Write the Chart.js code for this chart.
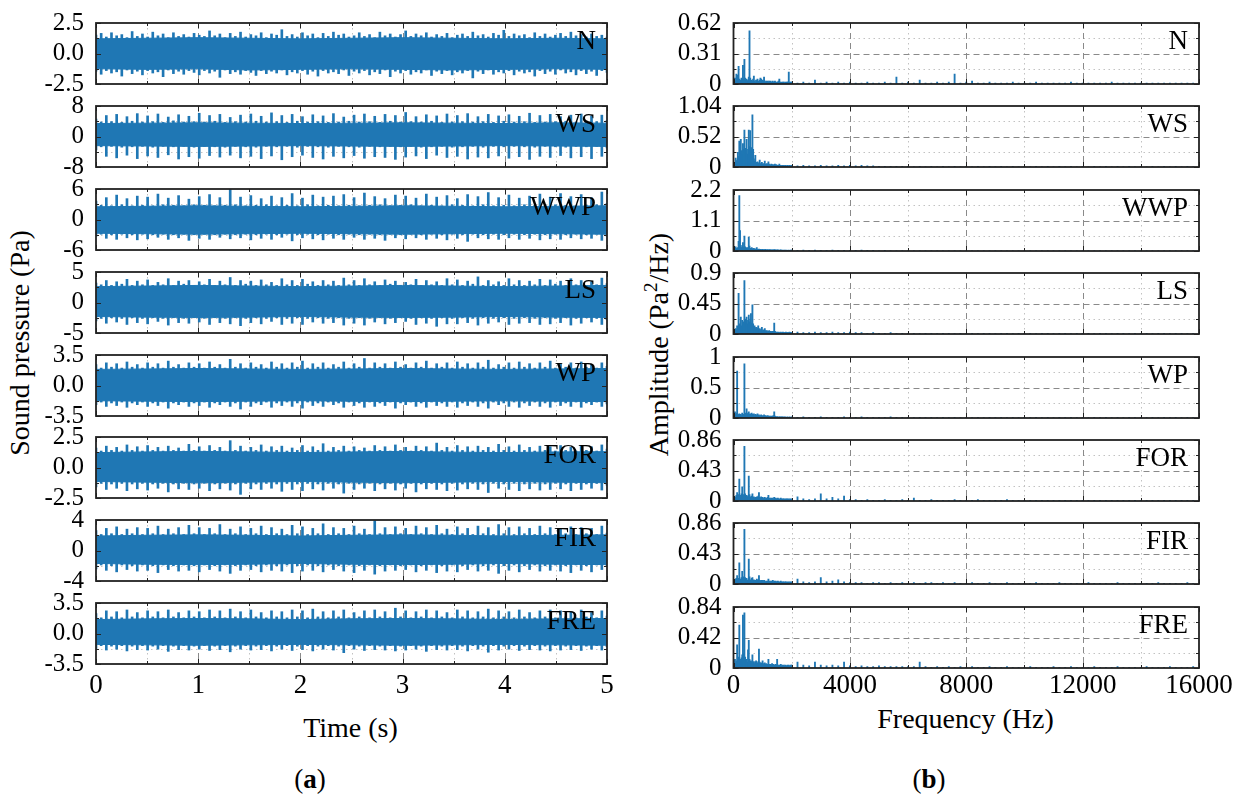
<!DOCTYPE html>
<html>
<head>
<meta charset="utf-8">
<script src="https://cdn.jsdelivr.net/npm/chart.js@4.4.0/dist/chart.umd.min.js"></script>
<style>
  body { margin: 0; background: #fff; width: 1243px; height: 798px; position: relative; overflow: hidden;
         font-family: 'Liberation Serif', 'Times New Roman', serif; color: #000; }
  canvas { position: absolute; }
  .t { position: absolute; font-size: 28px; line-height: 28px; white-space: nowrap; text-align: center; }
  .rot { transform: rotate(-90deg); }
</style>
</head>
<body>
<div class="t rot" style="left:-180px;top:329px;width:400px;">Sound pressure (Pa)</div>
<div class="t rot" style="left:459.5px;top:329px;width:400px;">Amplitude (Pa<span style="font-size:19px;position:relative;top:-11px">2</span>/Hz)</div>
<div class="t" style="left:0;top:713.5px;width:701px;">Time (s)</div>
<div class="t" style="left:700px;top:704.5px;width:531px;">Frequency (Hz)</div>
<div class="t" style="left:260px;top:764.5px;width:100px;font-size:27px;">(<b>a</b>)</div>
<div class="t" style="left:879px;top:764.5px;width:100px;font-size:27px;">(<b>b</b>)</div>
<script>
// Sound pressure signals (a) and their spectra (b) for eight conditions

const signalNames = ["N", "WS", "WWP", "LS", "WP", "FOR", "FIR", "FRE"];

// (a) axis limits and tick labels
const pressureLimits = [2.5, 8, 6, 5, 3.5, 2.5, 4, 3.5];
const pressureTickText = [
  ["-2.5", "0.0", "2.5"], ["-8", "0", "8"], ["-6", "0", "6"], ["-5", "0", "5"],
  ["-3.5", "0.0", "3.5"], ["-2.5", "0.0", "2.5"], ["-4", "0", "4"], ["-3.5", "0.0", "3.5"]
];
const timeTicks = [0, 1, 2, 3, 4, 5];
const timeStep = 5 / 99; // 100 spike samples over 5 s
const coreStep = 0.5;    // dense core band read every 0.5 s

// (b) axis limits and tick labels
const amplitudeMax = [0.62, 1.04, 2.2, 0.9, 1, 0.86, 0.86, 0.84];
const amplitudeTickText = [
  ["0", "0.31", "0.62"], ["0", "0.52", "1.04"], ["0", "1.1", "2.2"], ["0", "0.45", "0.9"],
  ["0", "0.5", "1"], ["0", "0.43", "0.86"], ["0", "0.43", "0.86"], ["0", "0.42", "0.84"]
];
const freqTicks = [0, 4000, 8000, 12000, 16000];
const lowStepHz = 25;     // 0 .. 1975 Hz
const highStartHz = 2000; // 2000 .. 16000 Hz
const highStepHz = 200;

// solid core of each pressure signal (Pa)
const nCoreUp = [1.2,1.25,1.3,1.25,1.2,1.25,1.3,1.25,1.2,1.25,1.2];
const nCoreLo = [-1.25,-1.3,-1.25,-1.35,-1.3,-1.25,-1.3,-1.35,-1.3,-1.25,-1.3];
const wsCoreUp = [3.4,3.5,3.6,3.5,3.4,3.5,3.6,3.5,3.4,3.6,3.5];
const wsCoreLo = [-2.4,-2.5,-2.6,-2.5,-2.4,-2.5,-2.6,-2.5,-2.4,-2.5,-2.6];
const wwpCoreUp = [2.5,2.6,2.7,2.6,2.5,2.6,2.7,2.6,2.5,2.6,2.7];
const wwpCoreLo = [-2.7,-2.8,-2.9,-2.8,-2.7,-2.8,-2.9,-2.8,-2.7,-2.8,-2.9];
const lsCoreUp = [2.6,2.7,2.8,2.7,2.6,2.7,2.8,2.7,2.6,2.7,2.8];
const lsCoreLo = [-2.3,-2.4,-2.45,-2.4,-2.3,-2.4,-2.45,-2.4,-2.3,-2.4,-2.45];
const wpCoreUp = [1.85,1.9,1.95,1.9,1.85,1.9,1.95,1.9,1.85,1.9,1.95];
const wpCoreLo = [-1.75,-1.8,-1.85,-1.8,-1.75,-1.8,-1.85,-1.8,-1.75,-1.8,-1.85];
const forCoreUp = [1.22,1.28,1.32,1.28,1.22,1.28,1.32,1.26,1.22,1.28,1.3];
const forCoreLo = [-1.15,-1.2,-1.25,-1.2,-1.15,-1.2,-1.25,-1.2,-1.15,-1.2,-1.25];
const firCoreUp = [1.9,2.0,2.05,2.0,1.9,2.0,2.05,2.0,1.9,2.0,2.05];
const firCoreLo = [-1.7,-1.8,-1.85,-1.8,-1.7,-1.8,-1.85,-1.8,-1.7,-1.8,-1.85];
const freCoreUp = [1.6,1.68,1.72,1.68,1.6,1.68,1.72,1.68,1.6,1.68,1.72];
const freCoreLo = [-1.25,-1.3,-1.35,-1.3,-1.25,-1.3,-1.35,-1.3,-1.25,-1.3,-1.35];

// upper / lower spike tips of each pressure signal (Pa)
const nUpper = [1.5,1.65,1.35,1.7,1.45,1.55,1.3,1.8,1.4,1.6, 1.35,1.75,1.45,1.6,1.3,1.7,1.4,1.55,1.35,1.65,
  1.5,1.4,1.85,1.45,1.6,1.3,1.65,1.4,1.75,1.35, 1.55,1.45,1.7,1.3,1.6,1.5,1.95,1.4,1.55,1.35,
  1.7,1.45,1.6,1.3,1.65,1.4,1.75,1.5,1.6,1.35, 1.45,1.7,1.4,1.55,1.3,1.75,1.45,1.6,1.35,1.55,
  1.85,1.4,1.6,1.45,1.7,1.35,1.55,1.4,1.65,1.3, 1.5,1.6,1.4,1.75,1.45,1.55,1.35,1.65,1.5,1.9,
  1.4,1.6,1.45,1.55,1.3,1.7,1.4,1.6,1.35,1.5, 1.65,1.4,1.75,1.45,1.55,1.35,1.6,1.4,1.5,1.35];
const nLower = [-1.45,-1.7,-1.4,-1.6,-1.5,-1.85,-1.35,-1.65,-1.45,-1.75, -1.4,-1.6,-1.5,-1.9,-1.35,-1.65,-1.45,-1.7,-1.4,-1.55,
  -1.75,-1.4,-1.6,-1.45,-1.95,-1.35,-1.65,-1.5,-1.7,-1.4, -1.55,-1.8,-1.4,-1.65,-1.45,-1.6,-1.35,-1.75,-1.5,-1.6,
  -1.4,-1.7,-1.45,-1.85,-1.4,-1.6,-1.5,-1.65,-1.35,-1.8, -1.45,-1.6,-1.4,-1.75,-1.5,-1.65,-1.35,-1.9,-1.45,-1.6,
  -1.4,-1.7,-1.5,-1.6,-1.35,-1.8,-1.45,-1.65,-1.4,-1.75, -1.5,-1.6,-1.4,-2.0,-1.45,-1.65,-1.35,-1.7,-1.5,-1.6,
  -1.4,-1.75,-1.45,-1.6,-1.5,-1.85,-1.4,-1.65,-1.45,-1.7, -1.35,-1.6,-1.5,-1.75,-1.4,-1.65,-1.45,-1.8,-1.4,-1.55];
const wsUpper = [4.6,3.8,5.5,3.9,5.8,3.7,5.2,4.0,6.0,3.8, 5.4,3.9,5.9,3.7,5.1,4.1,5.7,3.8,5.3,3.9,
  6.1,3.8,5.5,4.0,5.8,3.7,5.0,3.9,5.6,3.8, 5.9,4.0,5.3,3.8,6.2,3.9,5.5,3.7,5.8,4.0,
  5.2,3.8,5.7,3.9,5.4,3.7,6.0,3.8,5.1,4.0, 5.6,3.8,5.9,3.9,5.3,3.7,5.8,4.0,5.5,3.8,
  6.3,3.9,5.2,3.8,5.7,4.0,5.4,3.7,5.9,3.8, 5.5,3.9,6.0,3.8,5.2,3.9,5.8,3.7,5.4,4.0,
  5.7,3.8,5.3,3.9,6.1,3.7,5.5,3.8,5.8,3.9, 5.2,4.0,5.6,3.8,5.9,3.7,5.4,3.9,5.6,4.2];
const wsLower = [-3.5,-2.7,-5.2,-2.6,-5.6,-2.8,-4.9,-2.7,-5.8,-2.6, -5.1,-2.8,-5.5,-2.6,-4.8,-2.7,-5.9,-2.6,-5.3,-2.8,
  -5.7,-2.6,-5.0,-2.7,-5.4,-2.8,-4.9,-2.6,-5.6,-2.7, -5.2,-2.8,-5.8,-2.6,-5.1,-2.7,-6.1,-2.6,-5.3,-2.8,
  -4.9,-2.6,-5.5,-2.7,-5.9,-2.8,-5.2,-2.6,-5.6,-2.7, -5.0,-2.8,-5.7,-2.6,-5.3,-2.7,-5.5,-2.6,-6.0,-2.7,
  -5.4,-2.6,-5.1,-2.8,-5.8,-2.7,-4.9,-2.6,-5.5,-2.8, -5.2,-2.7,-5.9,-2.6,-5.4,-2.8,-5.6,-2.6,-5.1,-2.7,
  -5.7,-2.6,-5.3,-2.7,-6.0,-2.8,-5.2,-2.6,-5.5,-2.7, -5.0,-2.8,-5.6,-2.6,-5.3,-2.7,-5.8,-2.6,-5.2,-3.0];
const wwpUpper = [3.6,2.8,4.3,2.7,4.8,2.9,4.1,2.7,4.6,2.8, 4.4,2.7,5.0,2.9,4.2,2.8,4.7,2.7,4.0,2.9,
  4.5,2.8,4.9,2.7,4.3,2.8,5.9,2.9,4.4,2.7, 4.7,2.8,4.1,2.9,4.6,2.7,4.3,2.8,5.1,2.7,
  4.2,2.9,4.8,2.7,4.4,2.8,4.6,2.7,4.9,2.8, 4.3,2.7,5.2,2.8,4.5,2.9,4.1,2.7,4.8,2.8,
  4.6,2.9,4.2,2.7,5.0,2.8,4.4,2.7,4.7,2.9, 4.1,2.8,4.9,2.7,4.5,2.9,5.3,2.7,4.3,2.8,
  4.8,2.7,4.2,2.9,4.6,2.8,5.0,2.7,4.4,2.9, 5.1,2.8,4.5,2.7,4.9,2.8,4.3,2.9,5.4,3.2];
const wwpLower = [-3.3,-2.9,-3.7,-3.0,-3.9,-2.9,-3.6,-3.0,-4.0,-2.9, -3.8,-3.0,-3.5,-2.9,-3.9,-3.0,-3.6,-2.9,-4.1,-3.0,
  -3.7,-2.9,-3.9,-3.0,-3.5,-2.9,-3.8,-3.0,-3.6,-2.9, -4.0,-3.0,-3.7,-2.9,-3.9,-3.0,-3.5,-2.9,-4.2,-3.0,
  -3.6,-2.9,-3.8,-3.0,-4.0,-2.9,-3.7,-3.0,-3.9,-2.9, -3.5,-3.0,-3.9,-2.9,-3.7,-3.0,-4.1,-2.9,-3.6,-3.0,
  -3.8,-2.9,-3.6,-3.0,-3.9,-2.9,-3.7,-3.0,-4.0,-2.9, -3.7,-3.0,-4.3,-2.9,-3.6,-3.0,-3.8,-2.9,-3.9,-3.0,
  -3.6,-2.9,-3.9,-3.0,-3.7,-2.9,-4.0,-3.0,-3.8,-2.9, -3.9,-3.0,-3.6,-2.9,-3.8,-3.0,-3.7,-2.9,-4.1,-3.3];
const lsUpper = [3.2,2.9,3.6,2.8,3.4,3.0,3.8,2.8,3.5,2.9, 3.7,2.8,3.3,2.9,3.9,2.8,3.5,3.0,3.6,2.8,
  3.4,2.9,3.8,2.8,3.5,2.9,4.1,2.8,3.6,3.0, 3.5,2.8,3.7,2.9,3.3,2.8,3.9,2.9,3.6,2.8,
  3.8,3.0,3.4,2.8,3.6,2.9,3.5,2.8,4.0,2.9, 3.6,2.8,3.9,2.9,3.4,2.8,3.7,3.0,3.5,2.8,
  3.3,2.9,3.8,2.8,3.6,2.9,3.4,2.8,3.9,2.9, 3.7,2.8,3.5,3.0,4.2,2.8,3.6,2.9,3.4,2.8,
  3.9,2.9,3.6,2.8,3.5,2.9,3.8,2.8,3.7,3.0, 3.5,2.8,3.9,2.9,3.6,2.8,3.4,2.9,4.0,3.1];
const lsLower = [-3.0,-2.6,-3.4,-2.5,-3.2,-2.6,-3.6,-2.5,-3.3,-2.6, -3.5,-2.5,-3.1,-2.6,-3.7,-2.5,-3.3,-2.6,-3.4,-2.5,
  -3.2,-2.6,-3.6,-2.5,-3.3,-2.6,-3.5,-2.5,-3.8,-2.6, -3.3,-2.5,-3.5,-2.6,-3.1,-2.5,-3.6,-2.6,-3.4,-2.5,
  -3.6,-2.6,-3.2,-2.5,-3.4,-2.6,-3.3,-2.5,-3.7,-2.6, -3.4,-2.5,-3.7,-2.6,-3.2,-2.5,-3.5,-2.6,-3.3,-2.5,
  -3.1,-2.6,-3.6,-2.5,-3.4,-2.6,-3.9,-2.5,-3.5,-2.6, -3.5,-2.5,-3.3,-2.6,-3.7,-2.5,-3.4,-2.6,-3.2,-2.5,
  -3.6,-2.6,-3.4,-2.5,-3.3,-2.6,-3.6,-2.5,-3.5,-2.6, -3.3,-2.5,-3.7,-2.6,-3.4,-2.5,-3.2,-2.6,-3.6,-2.8];
const wpUpper = [2.4,2.0,2.6,2.1,2.5,2.0,2.7,2.1,2.4,2.0, 2.6,2.1,2.5,2.0,2.8,2.1,2.4,2.0,2.6,2.1,
  2.5,2.0,2.7,2.1,2.4,2.0,3.0,2.1,2.5,2.0, 2.6,2.1,2.4,2.0,2.7,2.1,2.5,2.0,2.6,2.1,
  2.8,2.0,2.5,2.1,2.6,2.0,2.4,2.1,2.7,2.0, 2.5,2.1,3.1,2.0,2.6,2.1,2.5,2.0,2.7,2.1,
  2.4,2.0,2.6,2.1,2.8,2.0,2.5,2.1,2.6,2.0, 2.7,2.1,2.5,2.0,2.6,2.1,2.9,2.0,2.4,2.1,
  2.6,2.0,2.7,2.1,2.5,2.0,2.6,2.1,2.8,2.0, 2.5,2.1,2.6,2.0,2.7,2.1,2.4,2.0,2.6,2.2];
const wpLower = [-2.2,-1.9,-2.4,-2.0,-2.3,-1.9,-2.5,-2.0,-2.2,-1.9, -2.4,-2.0,-2.3,-1.9,-2.6,-2.0,-2.2,-1.9,-2.4,-2.0,
  -2.3,-1.9,-2.5,-2.0,-2.2,-1.9,-2.4,-2.0,-2.7,-1.9, -2.4,-2.0,-2.2,-1.9,-2.5,-2.0,-2.3,-1.9,-2.4,-2.0,
  -2.6,-1.9,-2.3,-2.0,-2.4,-1.9,-2.2,-2.0,-2.5,-1.9, -2.3,-2.0,-2.5,-1.9,-2.4,-2.0,-2.3,-1.9,-2.6,-2.0,
  -2.2,-1.9,-2.4,-2.0,-2.5,-1.9,-2.3,-2.0,-2.4,-1.9, -2.5,-2.0,-2.3,-1.9,-2.4,-2.0,-2.6,-1.9,-2.2,-2.0,
  -2.4,-1.9,-2.5,-2.0,-2.3,-1.9,-2.4,-2.0,-2.5,-1.9, -2.3,-2.0,-2.4,-1.9,-2.5,-2.0,-2.2,-1.9,-2.4,-2.1];
const forUpper = [1.6,1.35,1.75,1.4,1.65,1.35,1.85,1.4,1.7,1.35, 1.8,1.4,1.65,1.35,1.75,1.4,1.6,1.35,1.9,1.4,
  1.7,1.35,1.8,1.4,1.65,1.35,2.2,1.4,1.75,1.35, 1.65,1.4,1.85,1.35,1.7,1.4,1.75,1.35,1.6,1.4,
  1.8,1.35,1.7,1.4,1.95,1.35,1.65,1.4,1.75,1.35, 1.7,1.4,1.6,1.35,1.8,1.4,1.7,1.35,1.85,1.4,
  1.65,1.35,1.75,1.4,1.7,1.35,2.0,1.4,1.65,1.35, 1.8,1.4,1.7,1.35,1.75,1.4,1.65,1.35,1.9,1.4,
  1.7,1.35,1.85,1.4,1.65,1.35,1.75,1.4,1.7,1.35, 1.8,1.4,1.65,1.35,1.75,1.4,1.7,1.35,1.85,1.5];
const forLower = [-1.6,-1.3,-1.8,-1.35,-1.7,-1.3,-1.9,-1.35,-1.75,-1.3, -1.85,-1.35,-1.7,-1.3,-2.0,-1.35,-1.75,-1.3,-1.8,-1.35,
  -1.7,-1.3,-1.9,-1.35,-1.75,-1.3,-1.85,-1.35,-2.2,-1.3, -1.75,-1.35,-1.8,-1.3,-1.7,-1.35,-1.95,-1.3,-1.8,-1.35,
  -1.9,-1.3,-1.75,-1.35,-1.85,-1.3,-1.7,-1.35,-2.1,-1.3, -1.8,-1.35,-1.7,-1.3,-1.9,-1.35,-1.75,-1.3,-1.85,-1.35,
  -1.7,-1.3,-2.0,-1.35,-1.75,-1.3,-1.8,-1.35,-1.9,-1.3, -1.85,-1.35,-1.75,-1.3,-1.8,-1.35,-2.05,-1.3,-1.7,-1.35,
  -1.8,-1.3,-1.9,-1.35,-1.75,-1.3,-1.85,-1.35,-1.8,-1.3, -1.75,-1.35,-1.9,-1.3,-1.8,-1.35,-1.7,-1.3,-1.85,-1.45];
const firUpper = [2.6,2.1,2.9,2.2,3.1,2.1,2.8,2.2,3.0,2.1, 2.9,2.2,3.2,2.1,2.8,2.2,3.0,2.1,3.3,2.2,
  3.0,2.1,2.9,2.2,3.4,2.1,2.8,2.2,3.1,2.1, 2.9,2.2,3.2,2.1,3.0,2.2,2.8,2.1,3.3,2.2,
  3.1,2.1,2.9,2.2,3.5,2.1,3.0,2.2,2.9,2.1, 3.2,2.2,2.8,2.1,3.9,2.2,3.0,2.1,3.1,2.2,
  2.9,2.1,3.2,2.2,3.0,2.1,3.3,2.2,2.8,2.1, 3.1,2.2,2.9,2.1,3.2,2.2,3.0,2.1,3.4,2.2,
  3.0,2.1,3.1,2.2,2.9,2.1,3.2,2.2,3.0,2.1, 2.8,2.2,3.1,2.1,3.0,2.2,2.9,2.1,3.2,2.3];
const firLower = [-2.4,-1.9,-2.6,-2.0,-2.8,-1.9,-2.5,-2.0,-2.7,-1.9, -2.6,-2.0,-2.9,-1.9,-2.5,-2.0,-2.7,-1.9,-2.6,-2.0,
  -2.8,-1.9,-2.5,-2.0,-2.7,-1.9,-3.0,-2.0,-2.6,-1.9, -2.5,-2.0,-2.8,-1.9,-2.6,-2.0,-2.7,-1.9,-2.9,-2.0,
  -2.7,-1.9,-2.6,-2.0,-2.8,-1.9,-2.5,-2.0,-2.7,-1.9, -2.9,-2.0,-2.6,-1.9,-3.1,-2.0,-2.7,-1.9,-2.6,-2.0,
  -2.5,-1.9,-2.8,-2.0,-2.6,-1.9,-2.9,-2.0,-2.7,-1.9, -2.8,-2.0,-2.5,-1.9,-2.7,-2.0,-2.6,-1.9,-3.0,-2.0,
  -2.6,-1.9,-2.8,-2.0,-2.5,-1.9,-2.7,-2.0,-2.6,-1.9, -2.7,-2.0,-2.9,-1.9,-2.6,-2.0,-2.8,-1.9,-2.5,-2.1];
const freUpper = [2.3,1.8,2.6,1.9,2.5,1.8,2.7,1.9,2.4,1.8, 2.6,1.9,2.5,1.8,2.7,1.9,2.4,1.8,2.6,1.9,
  2.5,1.8,2.7,1.9,2.6,1.8,2.8,1.9,2.5,1.8, 2.7,1.9,2.4,1.8,2.6,1.9,2.5,1.8,2.7,1.9,
  2.6,1.8,2.8,1.9,2.5,1.8,2.6,1.9,2.7,1.8, 2.4,1.9,2.6,1.8,2.7,1.9,2.5,1.8,2.9,1.9,
  2.6,1.8,2.5,1.9,2.7,1.8,2.6,1.9,2.4,1.8, 2.7,1.9,2.6,1.8,2.5,1.9,2.8,1.8,2.6,1.9,
  2.5,1.8,2.7,1.9,2.4,1.8,2.6,1.9,2.7,1.8, 2.6,1.9,2.5,1.8,2.7,1.9,2.4,1.8,2.6,2.0];
const freLower = [-1.7,-1.4,-1.9,-1.45,-1.8,-1.4,-2.0,-1.45,-1.85,-1.4, -1.9,-1.45,-1.8,-1.4,-2.05,-1.45,-1.85,-1.4,-1.9,-1.45,
  -1.8,-1.4,-1.95,-1.45,-1.85,-1.4,-2.1,-1.45,-1.8,-1.4, -1.9,-1.45,-1.85,-1.4,-2.0,-1.45,-1.8,-1.4,-1.95,-1.45,
  -1.85,-1.4,-2.0,-1.45,-1.8,-1.4,-1.9,-1.45,-2.2,-1.4, -1.8,-1.45,-1.95,-1.4,-1.85,-1.45,-1.9,-1.4,-2.0,-1.45,
  -1.9,-1.4,-1.8,-1.45,-2.05,-1.4,-1.85,-1.45,-1.9,-1.4, -1.85,-1.45,-2.0,-1.4,-1.8,-1.45,-2.15,-1.4,-1.9,-1.45,
  -1.8,-1.4,-1.95,-1.45,-1.85,-1.4,-1.9,-1.45,-2.0,-1.4, -1.9,-1.45,-1.85,-1.4,-1.95,-1.45,-1.8,-1.4,-1.9,-1.5];

// spectra (Pa^2/Hz): low band every 25 Hz from 0, high band every 200 Hz from 2000
const nSpecLow = [.02,.03,.06,.03,.10,.04,.09,.18,.05,.04, .03,.06,.04,.19,.05,.25,.06,.03,.05,.03,
  .04,.07,.54,.06,.03,.04,.03,.05,.08,.03, .02,.04,.03,.05,.03,.02,.04,.06,.05,.03,
  .04,.03,.07,.03,.02,.03,.02,.03,.02,.03, .02,.03,.02,.02,.03,.02,.02,.03,.02,.01,
  .02,.02,.03,.05,.02,.01,.02,.01,.02,.02, .01,.02,.01,.02,.02,.02,.12,.02,.01,.02];
const nSpecHigh = [.02,.01,.02,.01,.04,.01,.02,.01,.02,.01, .02,.01,.01,.02,.01,.01,.02,.01,.07,.01,
  .02,.01,.04,.01,.01,.02,.01,.02,.10,.01, .02,.03,.01,.01,.02,.01,.01,.01,.02,.01,
  .01,.01,.02,.01,.01,.01,.01,.01,.02,.01, .01,.01,.01,.01,.01,.02,.01,.01,.01,.01,
  .01,.01,.01,.01,.01,.01,.01,.01,.01,.01, .01];
const wsSpecLow = [.05,.08,.06,.15,.10,.12,.25,.18,.44,.20, .47,.28,.22,.40,.30,.63,.25,.32,.47,.22,
  .30,.63,.35,.62,.28,.33,.89,.30,.14,.10, .20,.08,.06,.09,.05,.07,.12,.06,.05,.08,
  .05,.06,.04,.10,.05,.04,.06,.04,.09,.05, .04,.03,.05,.04,.03,.04,.03,.05,.03,.04,
  .03,.02,.03,.05,.02,.03,.02,.03,.02,.03, .02,.03,.02,.02,.03,.02,.02,.03,.02,.02];
const wsSpecHigh = [.03,.02,.03,.02,.02,.03,.02,.02,.03,.02, .03,.02,.03,.02,.02,.01,.01,.01,.01,.01,
  .01,.005,.01,.005,.01,.005,.01,.005,.01,.005, .01,.005,.01,.005,.01,.005,.01,.005,.01,.005,
  .01,.005,.01,.005,.01,.005,.01,.005,.01,.005, .01,.005,.01,.005,.01,.005,.01,.005,.01,.005,
  .01,.005,.01,.005,.01,.005,.01,.005,.01,.005, .01];
const wwpSpecLow = [.05,.08,.06,.15,.07,.10,.12,.35,2.0,.74, .20,.12,.15,.30,.12,.54,.15,.10,.12,.08,
  .12,.50,.18,.10,.08,.12,.09,.07,.10,.06, .08,.05,.12,.06,.05,.07,.04,.06,.05,.04,
  .06,.04,.05,.04,.06,.04,.03,.05,.04,.03, .05,.03,.04,.03,.04,.03,.05,.03,.04,.03,
  .03,.04,.03,.02,.03,.04,.02,.03,.02,.03, .02,.03,.02,.03,.02,.02,.03,.02,.02,.03];
const wwpSpecHigh = [.03,.02,.03,.02,.03,.02,.02,.03,.02,.02, .02,.02,.03,.02,.02,.01,.02,.01,.01,.01,
  .01,.01,.01,.01,.01,.01,.01,.01,.01,.01, .01,.01,.01,.01,.01,.01,.01,.01,.01,.01,
  .01,.01,.01,.01,.01,.01,.01,.01,.01,.01, .01,.01,.01,.01,.01,.01,.01,.01,.01,.01,
  .01,.01,.01,.01,.01,.01,.01,.01,.01,.01, .01];
const lsSpecLow = [.04,.06,.05,.08,.06,.12,.09,.60,.15,.10, .25,.12,.20,.14,.18,.79,.16,.22,.25,.15,
  .20,.28,.18,.22,.30,.16,.43,.15,.10,.12, .08,.10,.07,.09,.12,.06,.08,.05,.07,.10,
  .05,.06,.04,.08,.05,.04,.05,.03,.04,.05, .03,.04,.03,.04,.03,.04,.16,.04,.03,.02,
  .03,.02,.03,.02,.02,.03,.02,.02,.03,.02, .02,.02,.03,.02,.02,.02,.02,.03,.02,.02];
const lsSpecHigh = [.02,.03,.02,.02,.03,.02,.02,.03,.02,.02, .03,.02,.02,.01,.02,.01,.01,.02,.01,.01,
  .01,.01,.005,.01,.01,.005,.01,.01,.005,.01, .01,.01,.005,.01,.01,.005,.01,.01,.005,.01,
  .01,.01,.005,.01,.01,.005,.01,.01,.005,.01, .01,.01,.005,.01,.01,.005,.01,.01,.005,.01,
  .01,.01,.005,.01,.01,.005,.01,.01,.005,.01, .01];
const wpSpecLow = [.03,.05,.10,.06,.08,.77,.06,.05,.07,.05, .06,.04,.08,.05,.06,.89,.07,.08,.15,.06,
  .08,.10,.06,.07,.05,.08,.06,.05,.07,.04, .06,.04,.05,.07,.04,.05,.03,.04,.05,.03,
  .04,.03,.05,.03,.04,.03,.02,.04,.03,.02, .03,.02,.03,.02,.03,.04,.10,.03,.02,.02,
  .02,.02,.01,.02,.02,.01,.02,.02,.01,.02, .01,.02,.01,.01,.02,.01,.01,.02,.01,.01];
const wpSpecHigh = [.02,.01,.02,.01,.01,.02,.01,.01,.01,.02, .01,.01,.02,.01,.01,.01,.01,.02,.01,.01,
  .01,.005,.01,.005,.01,.005,.01,.005,.01,.005, .01,.005,.01,.005,.01,.005,.01,.005,.01,.005,
  .01,.005,.01,.005,.01,.005,.01,.005,.01,.005, .01,.005,.01,.005,.01,.005,.01,.005,.01,.005,
  .01,.005,.01,.005,.01,.005,.01,.005,.01,.005, .01];
const forSpecLow = [.03,.05,.04,.06,.08,.12,.05,.09,.31,.08, .06,.10,.20,.07,.09,.77,.10,.06,.08,.05,
  .07,.35,.09,.06,.05,.07,.10,.05,.06,.04, .05,.04,.06,.05,.07,.12,.05,.04,.06,.04,
  .05,.03,.04,.05,.03,.04,.03,.05,.08,.03, .04,.03,.04,.03,.04,.03,.05,.03,.04,.03,
  .03,.04,.03,.02,.03,.04,.03,.02,.03,.03, .02,.03,.02,.03,.03,.02,.03,.02,.03,.02];
const forSpecHigh = [.03,.06,.03,.02,.03,.10,.03,.05,.03,.07, .02,.02,.01,.02,.01,.01,.02,.01,.01,.02,
  .01,.04,.01,.01,.02,.01,.01,.01,.02,.01, .01,.01,.02,.01,.01,.01,.01,.02,.01,.01,
  .01,.01,.01,.01,.01,.01,.01,.01,.01,.01, .01,.01,.01,.01,.01,.01,.01,.01,.01,.01,
  .01,.01,.01,.01,.01,.01,.01,.01,.01,.01, .01];
const firSpecLow = [.03,.05,.04,.07,.08,.12,.06,.08,.30,.07, .06,.09,.18,.08,.10,.77,.09,.06,.08,.05,
  .06,.35,.10,.06,.05,.08,.09,.05,.06,.05, .05,.04,.07,.05,.06,.12,.05,.04,.05,.04,
  .05,.03,.05,.04,.03,.04,.03,.04,.07,.03, .04,.03,.04,.03,.05,.03,.04,.03,.04,.03,
  .03,.04,.03,.03,.02,.04,.03,.02,.03,.03, .02,.03,.03,.02,.03,.02,.03,.02,.03,.02];
const firSpecHigh = [.03,.07,.03,.02,.03,.09,.03,.04,.06,.03, .02,.02,.02,.01,.02,.02,.01,.02,.01,.02,
  .01,.02,.01,.02,.02,.01,.02,.01,.02,.01, .01,.02,.01,.01,.02,.01,.01,.02,.01,.01,
  .01,.01,.02,.01,.01,.01,.02,.01,.01,.01, .01,.02,.01,.01,.01,.01,.02,.01,.01,.01,
  .01,.01,.01,.02,.01,.01,.01,.01,.02,.01, .01];
const freSpecLow = [.05,.08,.12,.06,.10,.32,.08,.15,.59,.12, .10,.14,.18,.73,.20,.76,.15,.10,.12,.08,
  .25,.38,.12,.09,.10,.08,.18,.07,.09,.06, .08,.10,.06,.07,.09,.26,.08,.06,.07,.05,
  .10,.06,.05,.07,.05,.06,.04,.05,.12,.05, .04,.05,.04,.06,.04,.05,.04,.03,.05,.04,
  .12,.04,.03,.04,.03,.05,.03,.04,.03,.04, .03,.04,.03,.03,.04,.03,.04,.03,.03,.04];
const freSpecHigh = [.04,.08,.04,.03,.08,.04,.03,.04,.03,.08, .03,.02,.03,.02,.02,.03,.02,.02,.02,.02,
  .02,.02,.08,.02,.01,.02,.01,.02,.01,.02, .01,.02,.01,.01,.02,.01,.01,.02,.01,.01,
  .01,.02,.01,.01,.01,.02,.01,.01,.02,.01, .01,.01,.02,.01,.01,.01,.02,.01,.01,.01,
  .01,.02,.01,.01,.01,.02,.01,.01,.01,.02, .01];

const coreUpper = [nCoreUp, wsCoreUp, wwpCoreUp, lsCoreUp, wpCoreUp, forCoreUp, firCoreUp, freCoreUp];
const coreLower = [nCoreLo, wsCoreLo, wwpCoreLo, lsCoreLo, wpCoreLo, forCoreLo, firCoreLo, freCoreLo];
const pressureUpper = [nUpper, wsUpper, wwpUpper, lsUpper, wpUpper, forUpper, firUpper, freUpper];
const pressureLower = [nLower, wsLower, wwpLower, lsLower, wpLower, forLower, firLower, freLower];
const spectraLow = [nSpecLow, wsSpecLow, wwpSpecLow, lsSpecLow, wpSpecLow, forSpecLow, firSpecLow, freSpecLow];
const spectraHigh = [nSpecHigh, wsSpecHigh, wwpSpecHigh, lsSpecHigh, wpSpecHigh, forSpecHigh, firSpecHigh, freSpecHigh];

const freqHz = [];
for (let i = 0; i < 80; i++) freqHz.push(i * lowStepHz);
for (let k = 0; k <= 70; k++) freqHz.push(highStartHz + k * highStepHz);

const BLUE = "#1f77b4";
const SERIF = "'Liberation Serif', 'Times New Roman', serif";

// panel positions on the page
const leftTops = [23, 106, 189, 272, 355, 437, 520, 603];
const rightTops = [23, 106, 190, 273, 357, 440, 523, 607];

// MATLAB-like box: dashed/dotted grid, inward ticks, frame and a name label
const framePlugin = {
  id: "frame",
  beforeDatasetsDraw(chart, args, o) {
    const { ctx, chartArea: a } = chart;
    const x = chart.scales.x, y = chart.scales.y;
    const vline = (v) => { const p = Math.round(x.getPixelForValue(v)) + 0.5; ctx.moveTo(p, a.top); ctx.lineTo(p, a.bottom); };
    const hline = (v) => { const p = Math.round(y.getPixelForValue(v)) + 0.5; ctx.moveTo(a.left, p); ctx.lineTo(a.right, p); };
    ctx.save();
    ctx.lineWidth = 1;
    ctx.strokeStyle = "#c2c2c2";
    ctx.setLineDash([1.5, 3.5]);
    ctx.beginPath();
    o.xMinor.forEach(vline);
    o.yMinor.forEach(hline);
    ctx.stroke();
    ctx.strokeStyle = "#8a8a8a";
    ctx.setLineDash([6, 4]);
    ctx.beginPath();
    o.xMajor.forEach(vline);
    o.yMajor.forEach(hline);
    ctx.stroke();
    ctx.restore();
  },
  afterDatasetsDraw(chart, args, o) {
    const { ctx, chartArea: a } = chart;
    const x = chart.scales.x, y = chart.scales.y;
    ctx.save();
    ctx.strokeStyle = "#222";
    ctx.lineWidth = 1;
    ctx.beginPath();
    const xt = (v, len) => {
      const p = Math.round(x.getPixelForValue(v)) + 0.5;
      ctx.moveTo(p, a.bottom); ctx.lineTo(p, a.bottom - len);
      ctx.moveTo(p, a.top); ctx.lineTo(p, a.top + len);
    };
    const yt = (v, len) => {
      const p = Math.round(y.getPixelForValue(v)) + 0.5;
      ctx.moveTo(a.left, p); ctx.lineTo(a.left + len, p);
      ctx.moveTo(a.right, p); ctx.lineTo(a.right - len, p);
    };
    o.xTicks.forEach((v) => xt(v, 5));
    o.xMinor.forEach((v) => xt(v, 3));
    o.yTicks.forEach((v) => yt(v, 5));
    o.yMinor.forEach((v) => yt(v, 3));
    ctx.stroke();
    ctx.lineWidth = 1.8;
    ctx.strokeRect(a.left, a.top, a.right - a.left, a.bottom - a.top);
    ctx.fillStyle = "#000";
    ctx.font = "27px " + SERIF;
    ctx.textAlign = "right";
    ctx.textBaseline = "alphabetic";
    ctx.fillText(o.name, a.right - 11, a.top + 26);
    ctx.restore();
  }
};

function makePanel(p) {
  const canvas = document.createElement("canvas");
  const padTop = 20;
  const xAxisH = p.bottom ? 45 : 0;
  const padBottom = p.bottom ? 0 : 20;
  const cw = Math.round(p.yAxisWidth + p.width + p.rightPad);
  const ch = padTop + p.height + xAxisH + padBottom;
  canvas.width = cw;
  canvas.height = ch;
  canvas.style.left = p.left + "px";
  canvas.style.top = (p.top - padTop) + "px";
  canvas.style.width = cw + "px";
  canvas.style.height = ch + "px";
  document.body.appendChild(canvas);

  new Chart(canvas, {
    type: "line",
    data: { datasets: p.datasets },
    options: {
      responsive: false,
      animation: false,
      events: [],
      layout: { padding: { left: 0, top: padTop, right: cw - p.yAxisWidth - p.width, bottom: padBottom } },
      plugins: { legend: { display: false }, tooltip: { enabled: false }, frame: p.frame },
      scales: {
        x: {
          type: "linear", min: p.xMin, max: p.xMax, display: p.bottom, offset: false,
          afterBuildTicks: (s) => { s.ticks = p.xTicks.map((v) => ({ value: v })); },
          afterFit: (s) => { s.height = xAxisH; s.paddingLeft = 0; s.paddingRight = 0; },
          ticks: { autoSkip: false, maxRotation: 0, padding: p.xPad, color: "#000",
                   font: { family: SERIF, size: 27 }, callback: (v) => String(v) },
          grid: { display: false, drawTicks: false },
          border: { display: false }
        },
        y: {
          type: "linear", min: p.yMin, max: p.yMax,
          afterBuildTicks: (s) => { s.ticks = p.yTicks.map((v) => ({ value: v })); },
          afterFit: (s) => { s.width = p.yAxisWidth; s.paddingTop = 0; s.paddingBottom = 0; },
          ticks: { autoSkip: false, padding: 12, color: "#000",
                   font: { family: SERIF, size: 25 }, callback: (v, i) => p.yTickText[i] },
          grid: { display: false, drawTicks: false },
          border: { display: false }
        }
      }
    },
    plugins: [framePlugin]
  });
}

signalNames.forEach((name, i) => {
  const lim = pressureLimits[i];
  const yTicks = [-lim, 0, lim];
  makePanel({
    left: 0, top: leftTops[i], width: 511, height: 61, yAxisWidth: 96, rightPad: 33,
    bottom: i === 7, xPad: 6,
    xMin: 0, xMax: 5, xTicks: timeTicks,
    yMin: -lim, yMax: lim, yTicks: yTicks, yTickText: pressureTickText[i],
    datasets: [
      { data: coreUpper[i].map((v, k) => ({ x: k * coreStep, y: v })), borderColor: BLUE,
        backgroundColor: BLUE, borderWidth: 1, pointRadius: 0, fill: "+1" },
      { data: coreLower[i].map((v, k) => ({ x: k * coreStep, y: v })), borderColor: BLUE,
        borderWidth: 1, pointRadius: 0, fill: false },
      { type: "bar", data: pressureUpper[i].map((v, k) => ({ x: k * timeStep, y: [pressureLower[i][k], v] })),
        backgroundColor: BLUE, borderWidth: 0, barThickness: 2 }
    ],
    frame: {
      name: name,
      xTicks: timeTicks, xMajor: [1, 2, 3, 4], xMinor: [0.5, 1.5, 2.5, 3.5, 4.5],
      yTicks: yTicks, yMajor: [0], yMinor: [-lim / 2, lim / 2]
    }
  });

  const top = amplitudeMax[i];
  const amps = spectraLow[i].concat(spectraHigh[i]);
  makePanel({
    left: 640, top: rightTops[i], width: 465.5, height: 61, yAxisWidth: 93.5, rightPad: 44,
    bottom: i === 7, xPad: 2,
    xMin: 0, xMax: 16000, xTicks: freqTicks,
    yMin: 0, yMax: top, yTicks: [0, top / 2, top], yTickText: amplitudeTickText[i],
    datasets: [
      { type: "bar", data: freqHz.map((f, k) => ({ x: f, y: amps[k] })),
        backgroundColor: BLUE, borderWidth: 0, barThickness: 1.2 }
    ],
    frame: {
      name: name,
      xTicks: freqTicks, xMajor: [4000, 8000, 12000], xMinor: [2000, 6000, 10000, 14000],
      yTicks: [0, top / 2, top], yMajor: [top / 2], yMinor: [top / 4, top * 3 / 4]
    }
  });
});
</script>
</body>
</html>
